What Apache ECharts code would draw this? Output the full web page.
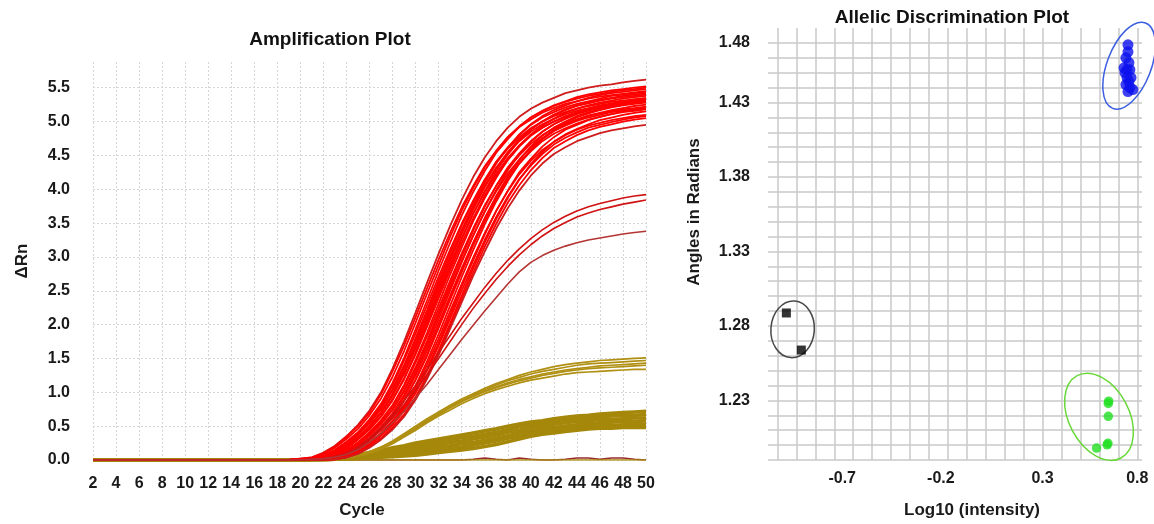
<!DOCTYPE html>
<html><head><meta charset="utf-8">
<script src="https://cdn.jsdelivr.net/npm/echarts@6/dist/echarts.min.js"></script>
<style>html,body{margin:0;padding:0;background:#fff}#c{width:1154px;height:524px}</style>
</head><body><div id="c"></div>
<script>
// ---------- Amplification plot data ----------
const cycles = [2,3,4,5,6,7,8,9,10,11,12,13,14,15,16,17,18,19,20,21,22,23,24,25,26,27,28,29,30,31,32,33,34,35,36,37,38,39,40,41,42,43,44,45,46,47,48,49,50];
// cycles 2..19 (baseline, all wells flat)
const earlyZeros = [0,0,0,0,0,0,0,0,0,0,0,0,0,0,0,0,0,0];
// values for cycles 20..50
const redCurves = [
 [0.02,0.04,0.11,0.21,0.35,0.52,0.73,1.00,1.35,1.75,2.18,2.62,3.05,3.46,3.84,4.18,4.47,4.71,4.91,5.07,5.19,5.28,5.35,5.42,5.46,5.50,5.53,5.55,5.58,5.60,5.62],
 [0.02,0.04,0.10,0.20,0.34,0.50,0.70,0.97,1.31,1.69,2.11,2.54,2.96,3.36,3.73,4.05,4.34,4.57,4.77,4.92,5.03,5.13,5.20,5.26,5.30,5.34,5.37,5.39,5.41,5.43,5.45],
 [0.01,0.03,0.08,0.18,0.31,0.46,0.66,0.91,1.23,1.61,2.03,2.46,2.88,3.30,3.68,4.02,4.32,4.56,4.77,4.93,5.06,5.15,5.23,5.29,5.34,5.38,5.41,5.44,5.46,5.48,5.50],
 [0.01,0.02,0.06,0.15,0.27,0.41,0.60,0.83,1.14,1.51,1.93,2.36,2.80,3.21,3.61,3.96,4.27,4.54,4.74,4.92,5.06,5.16,5.24,5.30,5.36,5.40,5.43,5.46,5.48,5.50,5.52],
 [0.01,0.02,0.06,0.14,0.26,0.40,0.58,0.80,1.10,1.47,1.87,2.29,2.71,3.11,3.49,3.83,4.14,4.40,4.60,4.77,4.90,5.00,5.08,5.14,5.19,5.23,5.26,5.29,5.31,5.33,5.35],
 [0.01,0.02,0.05,0.12,0.23,0.37,0.54,0.75,1.03,1.37,1.76,2.18,2.60,3.00,3.39,3.74,4.05,4.32,4.53,4.71,4.85,4.96,5.04,5.11,5.16,5.20,5.24,5.27,5.29,5.31,5.33],
 [0.01,0.02,0.05,0.12,0.23,0.38,0.55,0.77,1.05,1.40,1.80,2.22,2.65,3.06,3.46,3.81,4.13,4.41,4.62,4.80,4.95,5.06,5.14,5.21,5.26,5.30,5.34,5.38,5.40,5.42,5.44],
 [0.01,0.02,0.04,0.10,0.21,0.34,0.50,0.71,0.98,1.32,1.71,2.13,2.56,2.99,3.39,3.76,4.09,4.38,4.61,4.81,4.96,5.08,5.17,5.24,5.30,5.35,5.39,5.42,5.44,5.46,5.48],
 [0.01,0.02,0.04,0.10,0.20,0.33,0.49,0.69,0.95,1.27,1.65,2.06,2.48,2.89,3.28,3.64,3.95,4.23,4.46,4.65,4.80,4.91,5.00,5.07,5.13,5.17,5.21,5.24,5.26,5.28,5.30],
 [0.01,0.02,0.04,0.10,0.20,0.33,0.50,0.70,0.96,1.30,1.68,2.10,2.53,2.94,3.34,3.70,4.03,4.31,4.55,4.74,4.89,5.00,5.10,5.17,5.23,5.27,5.31,5.34,5.36,5.38,5.40],
 [0.00,0.01,0.03,0.08,0.17,0.30,0.45,0.64,0.88,1.19,1.56,1.97,2.39,2.80,3.20,3.57,3.90,4.19,4.43,4.63,4.79,4.91,5.00,5.08,5.14,5.18,5.22,5.25,5.28,5.30,5.32],
 [0.00,0.01,0.03,0.08,0.17,0.31,0.46,0.65,0.90,1.21,1.59,2.01,2.44,2.85,3.26,3.64,3.97,4.27,4.51,4.72,4.88,5.00,5.10,5.18,5.24,5.28,5.32,5.35,5.38,5.40,5.42],
 [0.00,0.01,0.02,0.06,0.14,0.26,0.41,0.59,0.81,1.11,1.48,1.88,2.31,2.74,3.14,3.53,3.87,4.17,4.44,4.64,4.81,4.94,5.04,5.13,5.19,5.24,5.28,5.31,5.34,5.36,5.38],
 [0.00,0.01,0.02,0.06,0.14,0.26,0.39,0.57,0.79,1.08,1.44,1.83,2.24,2.65,3.05,3.42,3.76,4.05,4.31,4.50,4.67,4.80,4.90,4.97,5.03,5.08,5.12,5.15,5.18,5.20,5.22],
 [0.00,0.01,0.02,0.05,0.12,0.23,0.37,0.54,0.75,1.03,1.37,1.76,2.18,2.60,3.00,3.39,3.74,4.05,4.32,4.53,4.71,4.85,4.96,5.04,5.11,5.16,5.20,5.24,5.27,5.29,5.31],
 [0.00,0.01,0.02,0.05,0.12,0.23,0.36,0.53,0.74,1.01,1.34,1.72,2.14,2.55,2.94,3.32,3.67,3.97,4.23,4.44,4.62,4.75,4.86,4.94,5.01,5.06,5.10,5.14,5.16,5.18,5.20],
 [0.00,0.01,0.02,0.04,0.10,0.20,0.33,0.49,0.69,0.96,1.29,1.67,2.08,2.50,2.92,3.31,3.67,3.99,4.28,4.51,4.70,4.85,4.96,5.05,5.12,5.18,5.22,5.26,5.29,5.31,5.33],
 [0.00,0.00,0.01,0.04,0.10,0.20,0.32,0.48,0.67,0.93,1.25,1.62,2.02,2.43,2.83,3.21,3.57,3.88,4.15,4.38,4.56,4.71,4.82,4.90,4.97,5.03,5.07,5.11,5.14,5.16,5.18],
 [0.00,0.00,0.01,0.03,0.08,0.17,0.30,0.45,0.64,0.88,1.19,1.56,1.97,2.39,2.80,3.20,3.57,3.90,4.19,4.43,4.63,4.79,4.91,5.00,5.08,5.14,5.18,5.22,5.25,5.28,5.30],
 [0.00,0.00,0.01,0.03,0.08,0.17,0.30,0.45,0.63,0.87,1.18,1.54,1.95,2.37,2.77,3.17,3.53,3.86,4.15,4.39,4.58,4.74,4.86,4.95,5.03,5.09,5.13,5.17,5.20,5.23,5.25],
 [0.00,0.00,0.01,0.02,0.06,0.14,0.26,0.40,0.58,0.80,1.10,1.46,1.86,2.28,2.70,3.10,3.48,3.82,4.12,4.38,4.58,4.75,4.88,4.98,5.06,5.12,5.17,5.21,5.24,5.26,5.28],
 [0.00,0.00,0.01,0.02,0.06,0.13,0.25,0.39,0.56,0.77,1.06,1.41,1.79,2.20,2.60,2.99,3.35,3.68,3.97,4.22,4.42,4.58,4.70,4.80,4.88,4.94,4.98,5.02,5.05,5.08,5.10],
 [0.00,0.00,0.01,0.02,0.05,0.12,0.23,0.36,0.53,0.74,1.01,1.35,1.73,2.14,2.56,2.95,3.33,3.68,3.98,4.25,4.45,4.63,4.77,4.88,4.95,5.02,5.07,5.11,5.15,5.18,5.20],
 [0.00,0.00,0.01,0.02,0.05,0.12,0.22,0.36,0.52,0.72,0.99,1.32,1.69,2.09,2.50,2.88,3.25,3.59,3.89,4.15,4.35,4.52,4.66,4.76,4.84,4.91,4.95,4.99,5.03,5.06,5.08],
 [0.00,0.00,0.00,0.01,0.04,0.10,0.20,0.32,0.48,0.67,0.93,1.25,1.62,2.02,2.43,2.83,3.21,3.56,3.87,4.14,4.37,4.55,4.70,4.81,4.89,4.96,5.02,5.06,5.10,5.13,5.15],
 [0.00,0.00,0.00,0.01,0.04,0.10,0.19,0.32,0.47,0.66,0.91,1.22,1.59,1.98,2.38,2.77,3.15,3.49,3.80,4.06,4.28,4.46,4.61,4.71,4.80,4.87,4.92,4.96,5.00,5.03,5.05],
 [0.00,0.00,0.00,0.01,0.04,0.09,0.18,0.30,0.45,0.64,0.89,1.20,1.55,1.94,2.33,2.72,3.08,3.42,3.72,3.98,4.20,4.38,4.52,4.62,4.71,4.77,4.83,4.87,4.90,4.93,4.95]
];
const darkRedCurves = [
 [0.00,0.01,0.02,0.05,0.10,0.19,0.32,0.48,0.67,0.88,1.10,1.34,1.59,1.84,2.09,2.32,2.55,2.76,2.95,3.12,3.27,3.40,3.51,3.60,3.68,3.74,3.79,3.83,3.87,3.90,3.92],
 [0.00,0.01,0.02,0.04,0.09,0.17,0.29,0.44,0.62,0.82,1.03,1.26,1.50,1.75,2.00,2.24,2.46,2.67,2.86,3.03,3.18,3.31,3.42,3.51,3.59,3.65,3.70,3.74,3.78,3.81,3.84],
 [0.00,0.01,0.02,0.04,0.08,0.15,0.26,0.39,0.55,0.72,0.92,1.12,1.34,1.56,1.78,1.99,2.20,2.40,2.60,2.78,2.92,3.02,3.10,3.16,3.21,3.25,3.28,3.31,3.34,3.36,3.38]
];
const oliveUpperCurves = [
 [0,0,0.01,0.02,0.04,0.07,0.12,0.19,0.28,0.39,0.50,0.61,0.71,0.81,0.90,0.98,1.06,1.13,1.19,1.25,1.30,1.34,1.38,1.41,1.43,1.45,1.47,1.48,1.49,1.50,1.51],
 [0,0,0.01,0.02,0.04,0.07,0.12,0.19,0.27,0.38,0.49,0.60,0.70,0.80,0.89,0.97,1.04,1.11,1.17,1.22,1.27,1.31,1.34,1.37,1.40,1.42,1.43,1.44,1.45,1.46,1.47],
 [0,0,0.01,0.02,0.04,0.07,0.11,0.18,0.26,0.36,0.47,0.58,0.68,0.78,0.87,0.95,1.02,1.08,1.14,1.19,1.23,1.27,1.30,1.33,1.35,1.37,1.39,1.40,1.41,1.42,1.43],
 [0,0,0.01,0.02,0.04,0.06,0.11,0.17,0.25,0.35,0.46,0.57,0.67,0.77,0.86,0.94,1.01,1.07,1.12,1.17,1.21,1.25,1.28,1.31,1.33,1.35,1.36,1.37,1.38,1.39,1.40],
 [0,0,0.01,0.02,0.03,0.06,0.10,0.16,0.24,0.34,0.44,0.55,0.65,0.74,0.83,0.91,0.98,1.04,1.09,1.14,1.18,1.21,1.24,1.27,1.29,1.30,1.31,1.32,1.33,1.34,1.34]
];
const oliveLowerCurves = [
 [0.00,0.01,0.02,0.03,0.05,0.08,0.11,0.14,0.18,0.21,0.25,0.28,0.31,0.34,0.37,0.40,0.43,0.46,0.50,0.53,0.56,0.58,0.61,0.63,0.65,0.66,0.68,0.69,0.70,0.71,0.72],
 [0.00,0.01,0.02,0.03,0.04,0.07,0.09,0.12,0.15,0.18,0.21,0.24,0.27,0.30,0.33,0.35,0.38,0.41,0.45,0.49,0.52,0.54,0.57,0.59,0.61,0.62,0.64,0.65,0.66,0.66,0.67],
 [0.00,0.01,0.01,0.02,0.03,0.06,0.08,0.10,0.13,0.15,0.18,0.20,0.23,0.26,0.28,0.31,0.34,0.37,0.41,0.44,0.48,0.50,0.53,0.55,0.57,0.58,0.60,0.60,0.61,0.62,0.62],
 [0.00,0.00,0.01,0.02,0.03,0.04,0.06,0.08,0.10,0.12,0.14,0.17,0.19,0.21,0.24,0.26,0.29,0.32,0.36,0.40,0.43,0.46,0.48,0.50,0.52,0.54,0.55,0.56,0.57,0.57,0.58],
 [0.00,0.00,0.00,0.01,0.02,0.03,0.05,0.06,0.07,0.09,0.11,0.13,0.15,0.17,0.19,0.22,0.25,0.28,0.32,0.35,0.39,0.42,0.44,0.46,0.48,0.50,0.51,0.51,0.52,0.53,0.53],
 [0.00,0.00,0.00,0.01,0.01,0.02,0.03,0.04,0.05,0.06,0.07,0.09,0.11,0.13,0.15,0.17,0.20,0.23,0.27,0.31,0.35,0.38,0.40,0.42,0.44,0.46,0.47,0.47,0.48,0.48,0.48]
];
// no-template controls, cycles 2..50
const ntcMaroon = [0,0,0,0,0,0,0,-0.02,-0.02,0,0,0,0,0,0,0,0,0,0,0,0,0,0,0,0,0,0,0,0,0,0,0,0,0.01,0.03,0.01,0,0.03,0.01,0,0,0.01,0.03,0.03,0.01,0.03,0.03,0.01,0];
const ntcOlive = [0,0,0,0,0,0,0,0,0,0,0,0,0,0,0,0,0,0,0,0,0,0,0,0,0,0,0,0,0,0,0,0,0,0,0,0,0,0,0,0,0,0,0,0,0,0,0,0,0];

// ---------- Allelic discrimination data [log10 intensity, angle] ----------
const blueAllele = [[0.751,1.4687],[0.751,1.464],[0.740,1.460],[0.756,1.4567],[0.746,1.452],[0.730,1.4533],[0.761,1.452],[0.735,1.450],[0.746,1.4467],[0.756,1.444],[0.767,1.4467],[0.740,1.442],[0.761,1.440],[0.751,1.4373],[0.777,1.4387]];
const blackNTC = [[-1.053,1.2887],[-0.974,1.2638]];
const greenAllele = [[0.647,1.228],[0.649,1.2295],[0.647,1.2193],[0.641,1.2002],[0.645,1.2012],[0.585,1.198]];
// cluster ellipses: [centre x, centre y, half-width (x units), half-height (y units), tilt deg]
const clusterEllipses = [[0.757,1.4547,0.1163,0.0307,-21],[-1.020,1.2777,0.1147,0.019,-4],[0.598,1.219,0.1586,0.0313,28]];
const rightYTickValues = [1.23,1.28,1.33,1.38,1.43,1.47];
const rightYTickLabels = ['1.23','1.28','1.33','1.38','1.43','1.48'];
const rightXTickValues = [-0.7,-0.2,0.3,0.8];
const rightXTickLabels = ['-0.7','-0.2','0.3','0.8'];

// ---------- build ----------
const FONT = '"Liberation Sans", Arial, sans-serif';
const ellipseColors = ['#3c5ee0','#4a4a4a','#6ad83a'];
function curveData(vals){ const full = earlyZeros.concat(vals); return cycles.map((c,i)=>[c, full[i]]); }
function fullData(vals){ return cycles.map((c,i)=>[c, vals[i]]); }
function lineSeries(data, color, width){
  return {type:'line', xAxisIndex:0, yAxisIndex:0, data, symbol:'none', silent:true,
    lineStyle:{color, width}, smooth:false};
}
const series = [];
series.push(lineSeries(fullData(ntcMaroon), '#9a2a2a', 1.5));
series.push(lineSeries(fullData(ntcOlive), '#a88a0c', 1.5));
oliveLowerCurves.forEach(v=>series.push(lineSeries(curveData(v), '#a5870a', 3.6)));
oliveUpperCurves.forEach(v=>series.push(lineSeries(curveData(v), '#b09012', 1.7)));
redCurves.forEach((v,i)=>series.push(lineSeries(curveData(v), (i===0||i===redCurves.length-1)?'#cf1c1c':'#ff0000', 1.8)));
darkRedCurves.forEach((v,i)=>series.push(lineSeries(curveData(v), i===2?'#b53434':'#d01212', 1.6)));

series.push({type:'scatter', xAxisIndex:1, yAxisIndex:1, data: blueAllele, symbol:'circle', symbolSize:11, itemStyle:{color:'#0c12ee'}, silent:true});
series.push({type:'scatter', xAxisIndex:1, yAxisIndex:1, data: blackNTC, symbol:'rect', symbolSize:9, itemStyle:{color:'#000'}, silent:true});
series.push({type:'scatter', xAxisIndex:1, yAxisIndex:1, data: greenAllele, symbol:'circle', symbolSize:9.5, itemStyle:{color:'#22e022'}, silent:true});
series.push({type:'custom', xAxisIndex:1, yAxisIndex:1, data: clusterEllipses, silent:true,
  renderItem:(params, api)=>{
    const c = api.coord([api.value(0), api.value(1)]);
    const s = api.size([api.value(2), api.value(3)]);
    return {type:'ellipse', x:c[0], y:c[1], rotation: api.value(4)*Math.PI/180,
      shape:{cx:0, cy:0, rx:s[0], ry:s[1]},
      style:{fill:'none', stroke: ellipseColors[params.dataIndex], lineWidth:1.5}};
  }});

const labelStyle = {fontFamily:FONT, fontWeight:'bold', fontSize:16, color:'#1a1a1a'};
const nameStyle = {fontFamily:FONT, fontWeight:'bold', fontSize:17, color:'#1a1a1a'};

const option = {
  animation:false,
  backgroundColor:'#fff',
  graphic:[
    {type:'text', x:330, y:40, style:{text:'Amplification Plot', font:'bold 19px '+FONT, fill:'#111', align:'center', verticalAlign:'middle'}},
    {type:'text', x:952, y:18, style:{text:'Allelic Discrimination Plot', font:'bold 19px '+FONT, fill:'#111', align:'center', verticalAlign:'middle'}}
  ],
  grid:[
    {left:93, right:508, top:62, bottom:62.3},
    {left:768, right:12, top:28, bottom:61}
  ],
  xAxis:[
    {type:'value', gridIndex:0, min:2, max:50, interval:2,
      name:'Cycle', nameLocation:'middle', nameGap:42, nameTextStyle:Object.assign({padding:[0,15,0,0]}, nameStyle),
      axisLine:{show:false}, axisTick:{show:false},
      axisLabel:Object.assign({margin:16}, labelStyle),
      splitLine:{show:true, lineStyle:{color:'#d6d6d6', width:1, type:[2,2]}}},
    {type:'value', gridIndex:1, min:-1.15, max:0.825, interval:0.05,
      name:'Log10 (intensity)', nameLocation:'middle', nameGap:42, nameTextStyle:Object.assign({padding:[0,0,0,34]}, nameStyle),
      axisLine:{show:false}, axisTick:{show:false},
      axisLabel:Object.assign({margin:11, showMaxLabel:false, formatter:v=>{
        for(let i=0;i<rightXTickValues.length;i++){ if(Math.abs(v-rightXTickValues[i])<1e-6) return '{t'+i+'|'+rightXTickLabels[i]+'}'; }
        return '';
      }, rich:{
        t0:Object.assign({padding:[0,22,0,0]}, labelStyle),
        t1:Object.assign({padding:[0,14,0,0]}, labelStyle),
        t2:Object.assign({}, labelStyle),
        t3:Object.assign({}, labelStyle)
      }}, labelStyle),
      splitLine:{show:true, lineStyle:{color:['transparent','#c8c8c8'], width:1.5}}}
  ],
  yAxis:[
    {type:'value', gridIndex:0, min:0, max:5.88, interval:0.5,
      name:'ΔRn', nameLocation:'middle', nameGap:62, nameRotate:90, nameTextStyle:nameStyle,
      axisLine:{show:false}, axisTick:{show:false},
      axisLabel:Object.assign({margin:23, showMaxLabel:false, formatter:v=>v.toFixed(1)}, labelStyle),
      splitLine:{show:true, showMaxLine:false, lineStyle:{color:'#d6d6d6', width:1, type:[2,2]}}},
    {type:'value', gridIndex:1, min:1.19, max:1.48, interval:0.01,
      name:'Angles in Radians', nameLocation:'middle', nameGap:65, nameRotate:90, nameTextStyle:Object.assign({padding:[0,0,0,64]}, nameStyle),
      axisLine:{show:false}, axisTick:{show:false},
      axisLabel:Object.assign({margin:18, showMaxLabel:false, formatter:v=>{
        for(let i=0;i<rightYTickValues.length;i++){ if(Math.abs(v-rightYTickValues[i])<1e-6) return rightYTickLabels[i]; }
        return '';
      }}, labelStyle),
      splitLine:{show:true, showMaxLine:false, lineStyle:{color:'#c8c8c8', width:1.5}}}
  ],
  series
};
const chart = echarts.init(document.getElementById('c'), null, {renderer:'canvas'});
chart.setOption(option);
</script>
</body></html>
